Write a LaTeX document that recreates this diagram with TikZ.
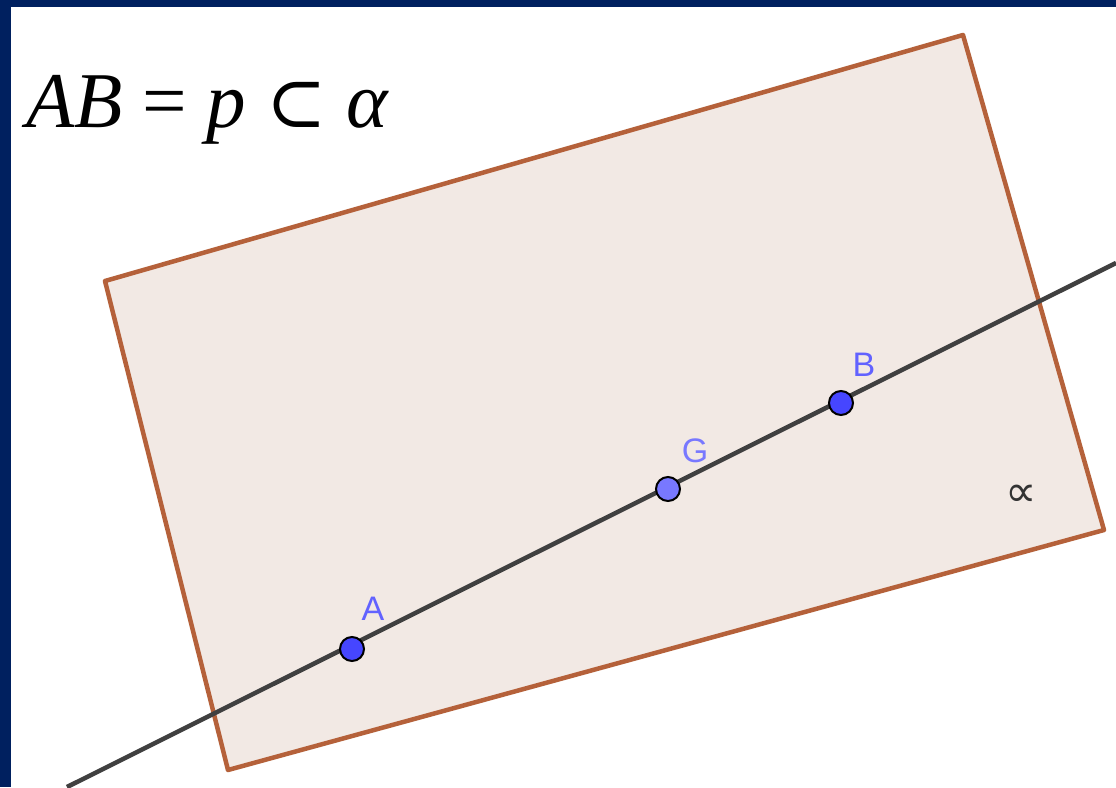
\documentclass[tikz,border=0pt]{standalone}
\usepackage{fontspec}
\setmainfont{Liberation Serif}
\newfontfamily\symfont{DejaVu Serif}
\newfontfamily\labelfont{Liberation Sans}
\newfontfamily\propfont{DejaVu Sans}
\definecolor{navy}{HTML}{00205F}
\definecolor{planeline}{HTML}{B5613A}
\definecolor{planefill}{HTML}{F2E9E4}
\definecolor{ptblue}{HTML}{4646FF}
\definecolor{ptlight}{HTML}{7878FF}
\begin{document}
\begin{tikzpicture}[x=1pt, y=-1pt]
    % Define styles
    \tikzstyle{gpoint} = [draw=black, line width=2pt, circle, fill=ptblue, minimum size=24pt, inner sep=0pt]
    \tikzstyle{glabel} = [inner sep=0pt, font=\labelfont\fontsize{34}{34}\selectfont, text=ptblue!85]
    \useasboundingbox (0,0) rectangle (1116,787);
    \fill[white] (0,0) rectangle (1116,787);
    \fill[navy] (0,0) rectangle (1116,7);
    \fill[navy] (0,0) rectangle (11,787);

    % Plane alpha
    \coordinate (p1) at (105,281);
    \coordinate (p2) at (963,35);
    \coordinate (p3) at (1104,530);
    \coordinate (p4) at (228,770);
    \draw[planeline, fill=planefill, line width=4.5pt, line join=round] (p1) -- (p2) -- (p3) -- (p4) -- cycle;
    \node[font=\propfont\fontsize{44}{44}\selectfont, text=black!80] (alpha) at (1021,496) {∝};

    % Line p through A, G, B
    \coordinate (lstart) at (67,787);
    \coordinate (lend) at (1116,263);
    \draw[black!75, line width=4.5pt] (lstart) -- (lend);

    % Points
    \node[gpoint] (A) at (352,649) {};
    \node[gpoint, fill=ptlight] (G) at (668,489) {};
    \node[gpoint] (B) at (841,403) {};
    \node[glabel] (lA) at (373,609) {A};
    \node[glabel, text=ptlight] (lG) at (695,451) {G};
    \node[glabel] (lB) at (864,365) {B};

    % Formula
    \node[anchor=base west, inner sep=0pt, font=\fontsize{79}{80}\selectfont] (formula) at (26,127) {\textit{AB} = \textit{p} {\symfont\fontsize{72}{80}\selectfont ⊂} \textit{α}};
\end{tikzpicture}
\end{document}
